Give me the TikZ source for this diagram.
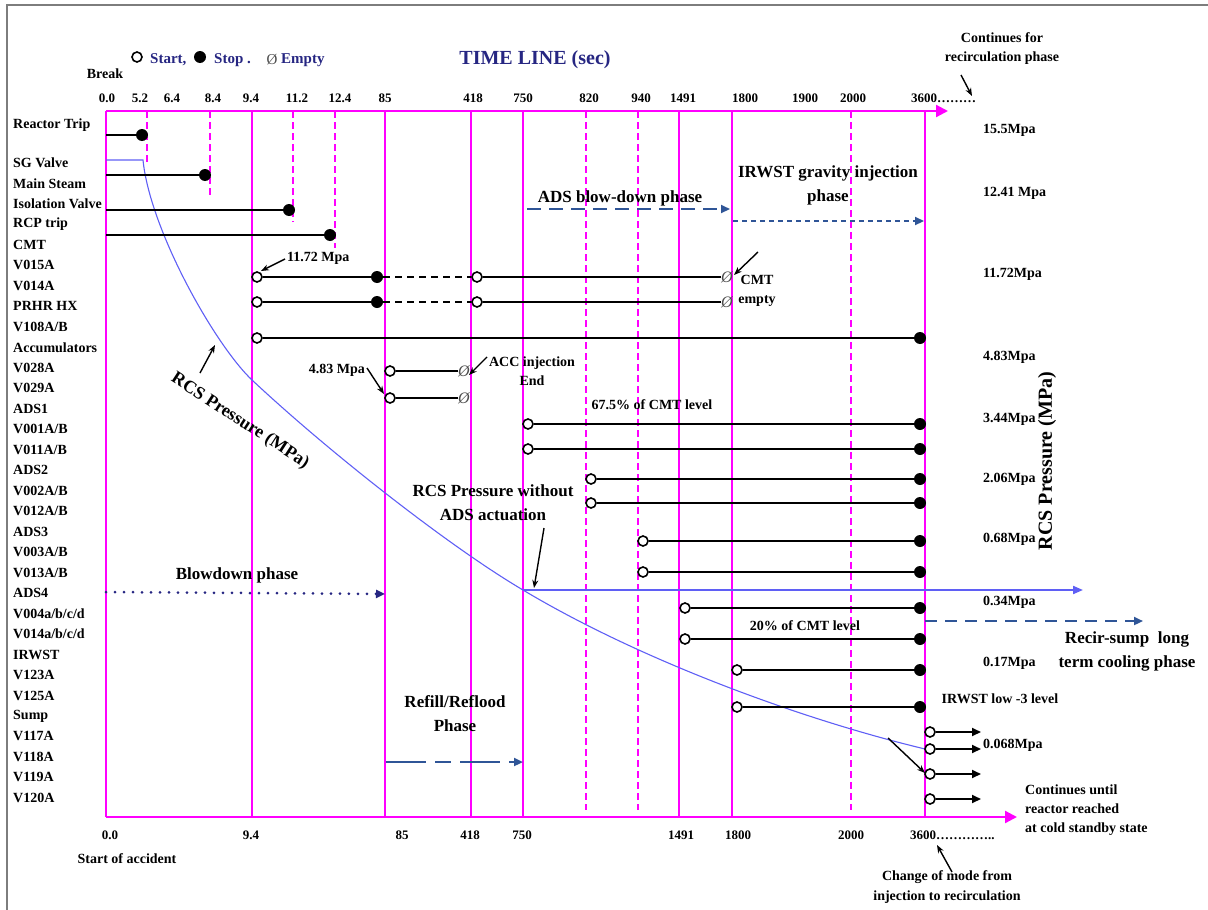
\documentclass[tikz,border=0pt]{standalone}
\usepackage{fontspec}
\setmainfont{Liberation Serif}
\usetikzlibrary{arrows.meta}
\definecolor{axmag}{RGB}{255,0,255}
\definecolor{legblue}{RGB}{38,38,130}
\definecolor{phaseblue}{RGB}{47,85,151}
\definecolor{rcsblue}{RGB}{95,95,245}
\definecolor{framegray}{RGB}{125,125,125}
\tikzset{
  txt/.style={font=\fontsize{14}{19}\selectfont\bfseries, inner sep=0pt},
  bigtxt/.style={font=\fontsize{17}{24}\selectfont\bfseries, inner sep=0pt},
  ticktxt/.style={font=\fontsize{13}{15}\selectfont\bfseries, inner sep=0pt},
  legtxt/.style={font=\fontsize{15}{18}\selectfont\bfseries, text=legblue, inner sep=0pt, anchor=west},
  startpt/.style={circle, draw, line width=1.6pt, fill=white, inner sep=0pt, minimum size=10pt},
  stoppt/.style={circle, fill, inner sep=0pt, minimum size=12pt},
  emptypt/.style={inner sep=0pt, font=\fontsize{16}{16}\selectfont\itshape, text=black!70},
  bar/.style={line width=1.8pt},
  gridline/.style={axmag, line width=1.8pt},
  griddash/.style={axmag, line width=1.8pt, dash pattern=on 7pt off 4pt},
  axisarr/.style={axmag, line width=2.2pt, -{Triangle[length=12pt, width=12pt]}},
  annot/.style={line width=1.4pt, -{Stealth[length=8pt, width=6pt]}},
  phasearr/.style={phaseblue, line width=2.2pt, -{Triangle[length=9pt, width=8pt]}},
}

\begin{document}
\begin{tikzpicture}[x=1pt, y=-1pt]
    \useasboundingbox (0,0) rectangle (1208,910);
    % page frame
    \draw[framegray, line width=2.5pt] (7,910) -- (7,5) -- (1208,5);

    % legend and title
    \node[startpt] (lgstart) at (137,57) {};
    \node[legtxt] (lgstarttxt) at (150,60) {Start,};
    \node[stoppt] (lgstop) at (200,57) {};
    \node[legtxt] (lgstoptxt) at (214,60) {Stop .};
    \node[emptypt, font=\fontsize{15}{15}\selectfont] (lgempty) at (272,60) {Ø};
    \node[legtxt] (lgemptytxt) at (281,60) {Empty};
    \node[font=\fontsize{20}{24}\selectfont\bfseries, text=legblue, inner sep=0pt] (title) at (535,60) {TIME LINE (sec)};
    \node[txt] (brk) at (105,74) {Break};
    \node[txt, align=center] (contfor) at (1002,49) {Continues for\\recirculation phase};
    \coordinate (contforarr) at (961,75);
    \coordinate (contfortip) at (972,96);
    \draw[annot] (contforarr) -- (contfortip);

    % time axes
    \coordinate (orig) at (106,111);
    \coordinate (topend) at (948,111);
    \coordinate (botleft) at (106,817);
    \coordinate (botend) at (1017,817);
    \draw[axisarr] (orig) -- (topend);
    \draw[axisarr] (botleft) -- (botend);
    \draw[gridline] (orig) -- (botleft);
    \foreach \x in {252,385,471,523,679,732,925}
        \draw[gridline] (\x,111) -- (\x,817);
    \foreach \x/\ye in {147/165, 210/195, 293/222, 335/248, 586/810, 638/810, 851/810}
        \draw[griddash] (\x,111) -- (\x,\ye);

    % tick labels
    \foreach \x/\t in {107/0.0, 140/5.2, 172/6.4, 213/8.4, 251/9.4, 297/11.2, 340/12.4, 385/85,
                       473/418, 523/750, 589/820, 641/940, 683/1491, 745/1800, 805/1900, 853/2000}
        \node[ticktxt] (tt\x) at (\x,98) {\t};
    \node[ticktxt, anchor=west] (tt3600) at (911,98) {3600………};
    \foreach \x/\t in {110/0.0, 251/9.4, 402/85, 470/418, 522/750, 681/1491, 738/1800, 851/2000}
        \node[ticktxt] (bt\x) at (\x,835) {\t};
    \node[ticktxt, anchor=west] (bt3600) at (910,835) {3600…………..};
    \node[txt] (startacc) at (127,859) {Start of accident};

    % component rows
    \node[txt, anchor=west] (lbltrip) at (13,125) {Reactor Trip};
    \foreach \lab [count=\i from 0] in {SG Valve, Main Steam, Isolation Valve, RCP trip, CMT, V015A, V014A,
            PRHR HX, V108A/B, Accumulators, V028A, V029A, ADS1, V001A/B, V011A/B, ADS2, V002A/B, V012A/B,
            ADS3, V003A/B, V013A/B, ADS4, V004a/b/c/d, V014a/b/c/d, IRWST, V123A, V125A, Sump,
            V117A, V118A, V119A, V120A}
        \node[txt, anchor=west] (row\i) at (13,163+20.48*\i) {\lab};

    % pressure values
    \foreach \y/\p in {130/15.5Mpa, 193/12.41 Mpa, 274/11.72Mpa, 357/4.83Mpa, 419/3.44Mpa, 479/2.06Mpa,
                       539/0.68Mpa, 602/0.34Mpa, 663/0.17Mpa, 745/0.068Mpa}
        \node[txt, anchor=west] (pv\y) at (983,\y) {\p};
    \node[font=\fontsize{20}{24}\selectfont\bfseries, inner sep=0pt, rotate=90] (rcsaxis) at (1047,461) {RCS Pressure (MPa)};

    % RCS pressure curve
    \draw[rcsblue, line width=1.1pt] (106,160) -- (143,160)
        .. controls (150,230) and (215,345) .. (252,380)
        .. controls (330,453) and (450,547) .. (523,590)
        .. controls (640,660) and (800,719) .. (925,749);
    \node[bigtxt, font=\fontsize{18}{20}\selectfont\bfseries, rotate=-33] (rcslbl) at (240,421) {RCS Pressure (MPa)};
    \coordinate (rcsarr) at (200,373);
    \coordinate (rcstip) at (215,345);
    \draw[annot] (rcsarr) -- (rcstip);

    % pressure without ADS
    \coordinate (noads) at (523,590);
    \coordinate (noadsend) at (1083,590);
    \draw[rcsblue, line width=2pt, -{Triangle[length=10pt, width=8pt]}] (noads) -- (noadsend);
    \node[bigtxt, align=center] (noadslbl) at (493,503) {RCS Pressure without\\ADS actuation};
    \coordinate (noadsarr) at (544,528);
    \coordinate (noadstip) at (534,588);
    \draw[annot] (noadsarr) -- (noadstip);

    % actions from time zero
    \foreach \nm/\xe/\y in {trip/142/135, msiv/205/175, iso/289/210, rcp/330/235}{
        \coordinate (\nm0) at (106,\y);
        \node[stoppt] (\nm) at (\xe,\y) {};
        \draw[bar] (\nm0) -- (\nm);
    }

    % CMT valves
    \foreach \nm/\y in {cmtA/277, cmtB/302}{
        \node[startpt] (\nm) at (257,\y) {};
        \node[stoppt] (\nm-stop) at (377,\y) {};
        \node[startpt] (\nm-re) at (477,\y) {};
        \node[emptypt] (\nm-empty) at (727,\y) {Ø};
        \draw[bar] (\nm) -- (\nm-stop);
        \draw[bar, line width=1.5pt, dash pattern=on 7pt off 5pt] (\nm-stop) -- (\nm-re);
        \draw[bar] (\nm-re) -- (\nm-empty);
    }
    \node[txt, align=center] (cmtempty) at (757,291) {CMT\\empty};
    \coordinate (cmtarr) at (758,252);
    \coordinate (cmttip) at (734,275);
    \draw[annot] (cmtarr) -- (cmttip);
    \node[txt, anchor=west] (p1172) at (287,258) {11.72 Mpa};
    \coordinate (p1172arr) at (285,259);
    \coordinate (p1172tip) at (261,271);
    \draw[annot] (p1172arr) -- (p1172tip);

    % PRHR HX
    \node[startpt] (prhr) at (257,338) {};
    \node[stoppt] (prhr-stop) at (920,338) {};
    \draw[bar] (prhr) -- (prhr-stop);

    % accumulators
    \foreach \nm/\y in {accA/371, accB/398}{
        \node[startpt] (\nm) at (390,\y) {};
        \node[emptypt] (\nm-empty) at (464,\y) {Ø};
        \draw[bar] (\nm) -- (\nm-empty);
    }
    \node[txt, anchor=east] (p483) at (365,370) {4.83 Mpa};
    \coordinate (p483arr) at (367,368);
    \coordinate (p483tip) at (384,394);
    \draw[annot] (p483arr) -- (p483tip);
    \node[txt, align=center] (accend) at (532,371) {ACC injection\\End};
    \coordinate (accarr) at (487,357);
    \coordinate (acctip) at (469,375);
    \draw[annot] (accarr) -- (acctip);

    % ADS stages and IRWST injection
    \foreach \nm/\xs/\y in {adsA/528/424, adsB/528/449, adsC/591/479, adsD/591/503, adsE/643/541,
                            adsF/643/572, adsG/685/608, adsH/685/639, irwA/737/670, irwB/737/707}{
        \node[startpt] (\nm) at (\xs,\y) {};
        \node[stoppt] (\nm-stop) at (920,\y) {};
        \draw[bar] (\nm) -- (\nm-stop);
    }
    \node[txt] (cmt675) at (652,405) {67.5\% of CMT level};
    \node[txt] (cmt20) at (805,626) {20\% of CMT level};
    \node[txt] (irwlow) at (1000,699) {IRWST low -3 level};

    % sump recirculation
    \foreach \nm/\y in {sumpA/732, sumpB/749, sumpC/774, sumpD/799}{
        \node[startpt] (\nm) at (930,\y) {};
        \coordinate (\nm-end) at (981,\y);
        \draw[bar, -{Triangle[length=9pt, width=8pt]}] (\nm) -- (\nm-end);
    }
    \coordinate (modearr) at (888,738);
    \coordinate (modetip) at (925,773);
    \draw[annot] (modearr) -- (modetip);
    \node[txt, align=left, anchor=west] (contuntil) at (1025,810) {Continues until\\reactor reached\\at cold standby state};
    \node[txt, align=center, font=\fontsize{14}{20}\selectfont\bfseries] (modechg) at (947,887) {Change of mode from\\injection to recirculation};
    \coordinate (chgarr) at (952,872);
    \coordinate (chgtip) at (937,845);
    \draw[annot] (chgarr) -- (chgtip);

    % phases
    \coordinate (bdstart) at (106,592);
    \coordinate (bdend) at (385,594);
    \draw[phasearr, color=legblue, line width=3pt, dash pattern=on 0pt off 9pt, line cap=round] (bdstart) -- (bdend);
    \node[bigtxt] (bdlbl) at (237,575) {Blowdown phase};
    \coordinate (adsbdstart) at (527,209);
    \coordinate (adsbdend) at (730,209);
    \draw[phasearr, dash pattern=on 14pt off 8pt] (adsbdstart) -- (adsbdend);
    \node[bigtxt] (adsbdlbl) at (620,198) {ADS blow-down phase};
    \coordinate (gravstart) at (733,221);
    \coordinate (gravend) at (924,221);
    \draw[phasearr, dash pattern=on 5pt off 4pt] (gravstart) -- (gravend);
    \node[bigtxt, align=center] (gravlbl) at (828,185) {IRWST gravity injection\\phase};
    \coordinate (refstart) at (386,762);
    \coordinate (refend) at (523,762);
    \draw[phasearr, dash pattern=on 40pt off 9pt on 16pt off 9pt] (refstart) -- (refend);
    \node[bigtxt, align=center] (reflbl) at (455,714) {Refill/Reflood\\Phase};
    \coordinate (recstart) at (925,621);
    \coordinate (recend) at (1143,621);
    \draw[phasearr, dash pattern=on 12pt off 8pt] (recstart) -- (recend);
    \node[bigtxt, align=center] (reclbl) at (1127,651) {Recir-sump\ \ long\\term cooling phase};
\end{tikzpicture}
\end{document}
